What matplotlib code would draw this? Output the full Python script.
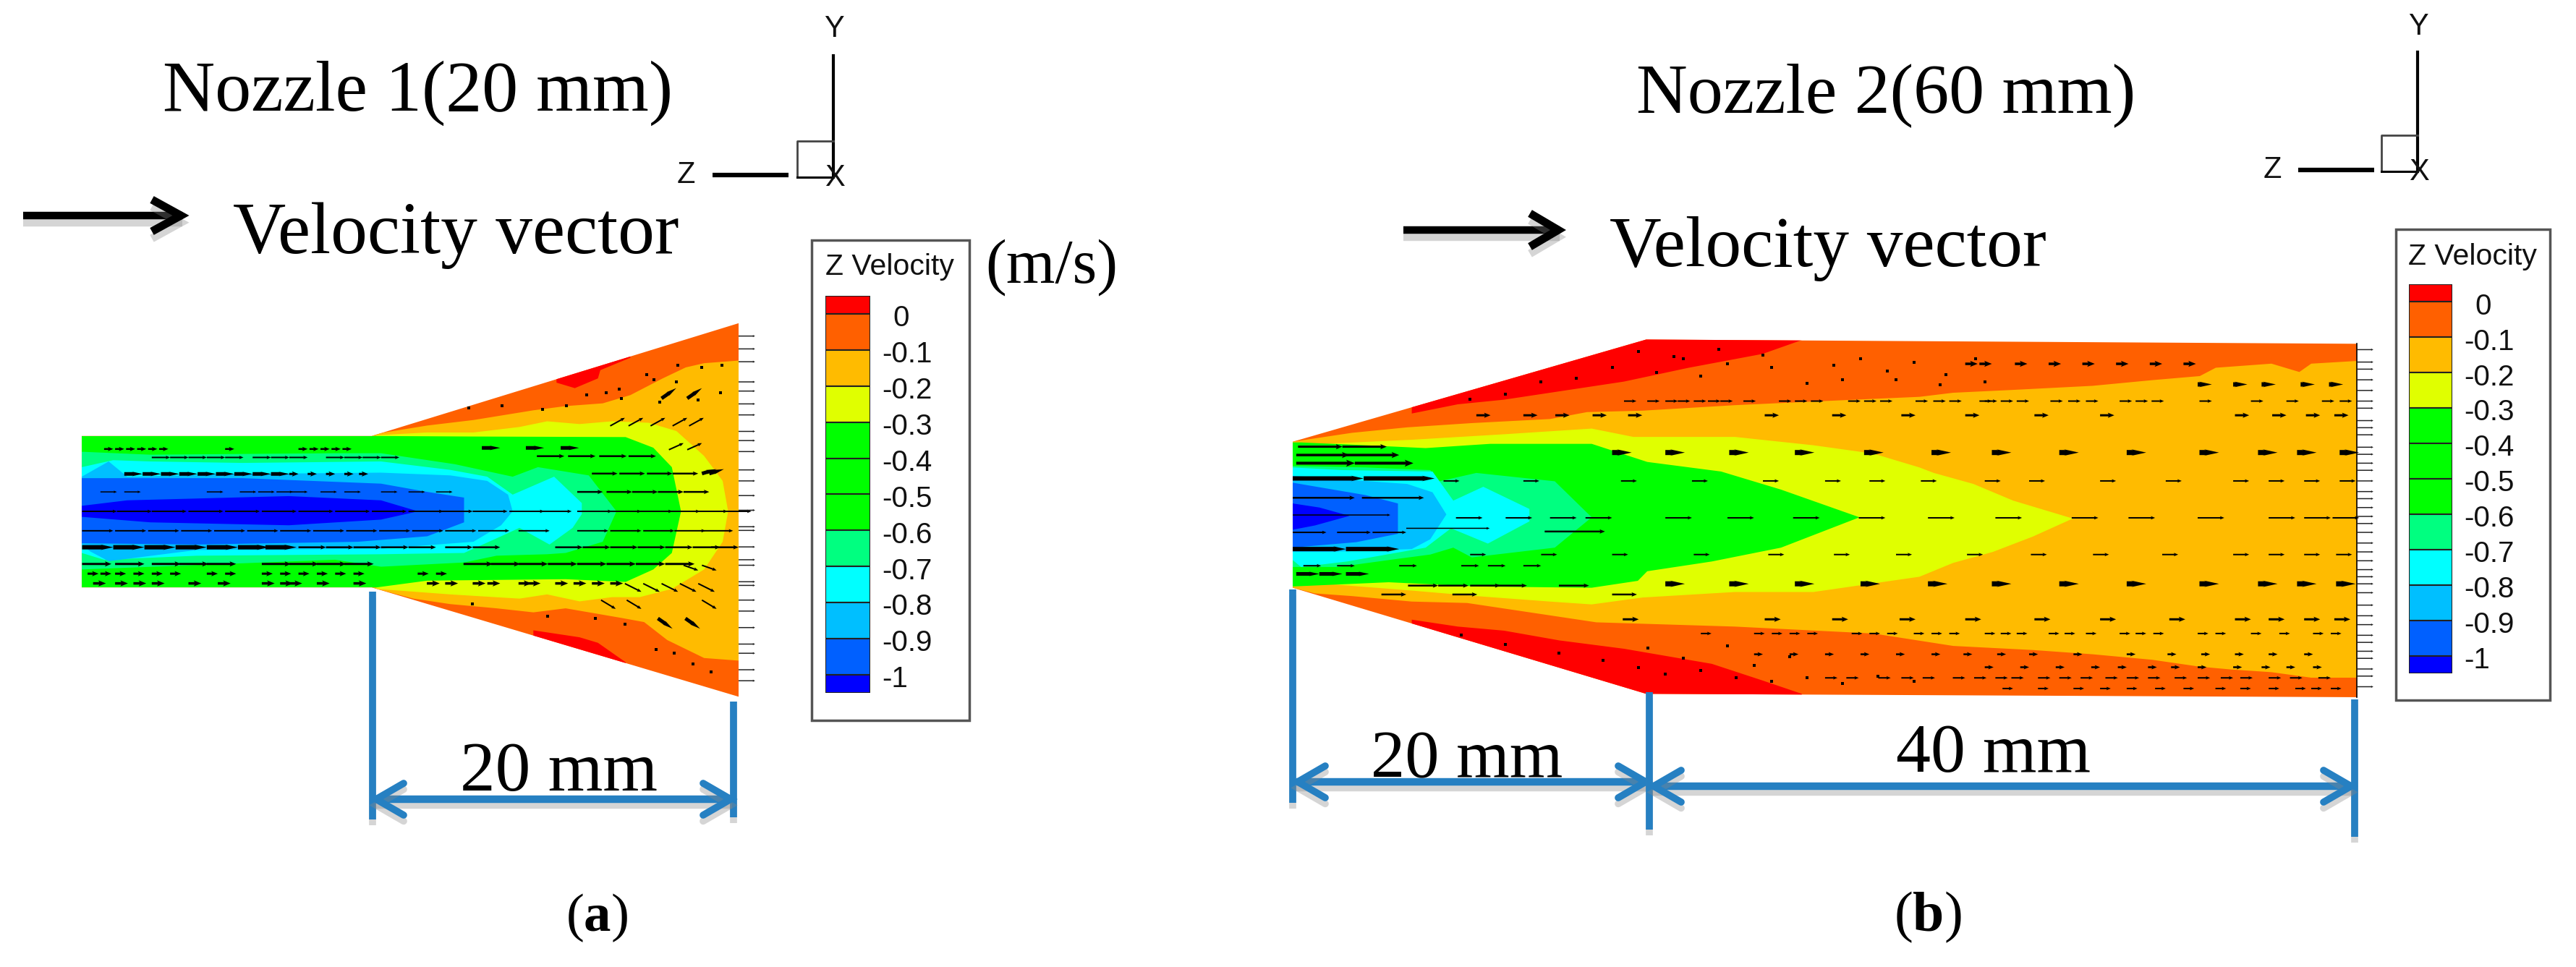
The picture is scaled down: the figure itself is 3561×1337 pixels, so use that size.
import matplotlib
matplotlib.use('Agg')
import matplotlib.pyplot as plt
import matplotlib.patheffects as pe
from matplotlib.patches import Polygon, Rectangle

W, H = 3562, 1337

plt.rcParams['mathtext.fontset'] = 'custom'
plt.rcParams['mathtext.rm'] = 'Liberation Serif'
plt.rcParams['mathtext.bf'] = 'Liberation Serif:bold'

# legend
levels = [0.05, 0, -0.1, -0.2, -0.3, -0.4, -0.5, -0.6, -0.7, -0.8, -0.9, -1, -1.05]
level_labels = ['0', '-0.1', '-0.2', '-0.3', '-0.4', '-0.5', '-0.6', '-0.7', '-0.8', '-0.9', '-1']
band_colors = ['#FF0000', '#FF6000', '#FFBB00', '#E0FF00', '#00FF00', '#00FF00', '#00FF00',
               '#00FF80', '#00FFFF', '#00BFFF', '#0060FF', '#0000FF']

# nozzle 1, contours: z (mm) along axis, r (mm) from axis
n1_wall_z = [-15.82, 0, 20, 20, 0, -15.82]
n1_wall_r = [4.15, 4.15, 10.3, -10.07, -4.11, -4.11]
n1_red_top_z = [10.07, 11.07, 12.33, 12.46, 14.10, 14.10, 10.07]
n1_red_top_r = [7.06, 6.76, 7.29, 7.74, 8.42, 9.5, 8.5]
n1_red_bot_z = [8.81, 11.33, 12.33, 13.84, 13.84, 8.81]
n1_red_bot_r = [-6.45, -6.83, -7.13, -8.19, -9.5, -8.0]
n1_amber_z = [0, .25, 3.02, 5.54, 8.81, 10.57, 12.59, 14.10, 15.86, 17.12, 18.12, 20.1,
              20.1, 18.12, 16.11, 14.85, 13.59, 10.57, 8.81, 6.8, 4.28, 2.27, .25, 0]
n1_amber_r = [4.15, 4.27, 4.72, 5.02, 5.55, 5.78, 5.93, 6.38, 7.29, 7.89, 8.12, 8.27,
              -8.11, -7.96, -6.98, -6.0, -5.77, -5.25, -5.47, -5.25, -5.02, -4.72, -4.19, -4.11]
n1_yellow_z = [.25, 3.02, 5.54, 8.05, 9.56, 11.33, 13.09, 15.1, 16.61, 18.12, 19.13, 19.43,
               19.13, 18.12, 16.36, 14.6, 13.09, 11.33, 9.56, 8.05, 4.28, .25]
n1_yellow_r = [4.19, 4.34, 4.34, 4.64, 4.95, 4.80, 4.95, 4.87, 4.42, 3.06, 1.7, .04,
               -1.62, -3.13, -4.19, -4.64, -4.64, -4.87, -4.49, -4.72, -4.49, -4.19]
n1_green_z = [-15.82, 0, 5.54, 13.84, 15.35, 16.36, 16.86, 16.36, 15.35, 13.84, 10.57, 3.02, .25, -15.82]
n1_green_r = [4.15, 4.15, 4.12, 4.09, 3.51, 2.45, .04, -2.23, -3.13, -3.81, -3.66, -3.74, -4.11, -4.11]
n1_lgreen_z = [-15.82, -12.08, -2.01, .5, 4.53, 7.68, 9.06, 11.83, 13.34, 12.59, 10.57, 9.56, 6.8, 5.03, .5, -2.01, -15.82]
n1_lgreen_r = [3.29, 3.13, 3.21, 3.21, 2.61, 1.93, 2.45, 2.0, .04, -1.62, -2.23, -2.30, -2.38, -2.75, -2.98, -2.60, -3.13]
n1_cyan_z = [-15.82, -14.1, -12.08, -7.05, .5, 4.28, 6.29, 7.68, 9.94, 11.45, 11.45, 10.95, 9.69, 8.05, 7.05, 5.03, .5, -9.56, -14.6, -15.82]
n1_cyan_r = [2.45, 2.83, 2.76, 2.68, 2.76, 2.30, 1.93, .95, 1.93, .49, -.11, -.86, -1.77, -.86, -1.32, -2.23, -2.30, -2.38, -2.6, -2.23]
n1_sky_z = [-15.82, -14.35, -13.34, -7.05, .5, 4.28, 6.29, 7.43, 7.68, 7.05, 5.54, .5, -9.56, -14.35, -15.35, -15.82]
n1_sky_r = [1.93, 2.76, 1.93, 2.08, 2.15, 2.0, 1.7, .95, .04, -.72, -1.62, -2.0, -2.07, -2.68, -2.15, -1.77]
n1_blue_z = [-15.82, -7.05, .5, 3.02, 5.03, 5.03, 3.02, -.76, -9.56, -15.82]
n1_blue_r = [1.85, 1.85, 1.55, 1.10, .79, -.56, -1.32, -1.62, -1.77, -1.70]
n1_dark_z = [-15.82, -13.34, -4.53, .5, 2.52, .5, -4.53, -12.08, -15.82]
n1_dark_r = [.34, .64, .87, .64, .04, -.41, -.72, -.56, -.26]

# nozzle 2
n2_wall_z = [0, 19.92, 59.98, 59.98, 19.92, 0]
n2_wall_r = [4.21, 9.97, 9.73, -10.19, -10.0, -4.02]
n2_red_top_z = [6.71, 9.31, 11.91, 15.03, 18.67, 22.32, 26.48, 28.69, 28.69, 19.92, 6.71]
n2_red_top_r = [5.8, 6.32, 6.58, 7.05, 7.6, 8.38, 9.16, 9.94, 10.5, 10.5, 7.0]
n2_red_bot_z = [6.71, 9.31, 11.91, 15.03, 18.67, 23.62, 26.48, 28.69, 28.69, 19.92, 6.71]
n2_red_bot_r = [-5.82, -6.21, -6.44, -6.99, -7.46, -8.31, -9.25, -10.0, -10.6, -10.6, -7.0]
n2_amber_z = [0, 3.33, 6.45, 10.09, 14.51, 16.59, 19.72, 24.92, 30.12, 35.32, 37.22, 40.58, 45.07, 48.43,
              51.12, 52.02, 55.16, 56.73, 57.4, 60.1, 60.1, 57.4, 55.16, 52.91, 51.12, 48.43, 45.07, 41.7,
              37.22, 32.72, 24.92, 17.11, 14.51, 9.83, 6.71, 3.33, 1.25, 0]
n2_amber_r = [4.21, 4.71, 5.02, 5.26, 5.49, 5.88, 5.96, 6.27, 6.51, 6.74, 6.97, 7.13, 7.36, 7.68,
              7.91, 8.38, 8.61, 8.14, 8.61, 8.77, -9.09, -9.09, -8.78, -8.63, -8.47, -8.08, -7.77, -7.53,
              -7.3, -6.6, -6.21, -5.97, -5.58, -4.88, -4.80, -4.49, -4.34, -4.02]
n2_yellow_z = [0, 1.77, 6.71, 11.91, 16.85, 19.2, 24.92, 29.34, 32.72, 35.32, 36.13, 38.36, 40.6, 43.96,
               41.7, 39.46, 37.22, 35.32, 29.34, 24.92, 19.72, 16.85, 14.51, 10.35, 6.71, 1.77, 0]
n2_yellow_r = [4.17, 4.09, 4.32, 4.63, 4.95, 4.48, 4.48, 4.01, 3.54, 2.76, 2.45, 1.83, .89, -.12,
               -1.14, -2.0, -2.62, -3.4, -4.26, -4.26, -4.57, -4.96, -4.8, -4.49, -4.18, -3.79, -3.95]
n2_green_z = [0, .47, 4.11, 7.49, 11.13, 16.85, 19.98, 24.14, 27.52, 31.94, 27.52, 23.62, 19.98, 19.45, 16.85, 10.35, 5.41, 0]
n2_green_r = [4.17, 4.17, 4.01, 3.85, 4.09, 4.09, 3.07, 2.53, 1.51, -.05, -1.76, -2.54, -3.09, -3.63, -4.02, -3.95, -3.71, -3.95]
n2_lgreen_z = [0, 4.11, 7.75, 8.27, 10.35, 14.77, 16.85, 14.77, 10.09, 9.05, 7.75, 5.93, 2.55, 0]
n2_lgreen_r = [2.84, 2.76, 2.61, 1.98, 2.45, 1.98, -.05, -1.76, -2.31, -1.76, -2.15, -2.39, -2.85, -2.85]
n2_cyan_z = [0, 2.81, 7.88, 9.05, 10.74, 13.34, 13.34, 11.0, 8.92, 7.49, 3.07, .47, 0]
n2_cyan_r = [2.76, 2.61, 2.53, .89, 1.67, .42, -.28, -1.53, -.67, -1.76, -2.54, -2.85, -2.46]
n2_sky_z = [0, 6.45, 7.88, 8.66, 7.75, 6.71, 2.03, 0]
n2_sky_r = [2.29, 1.83, 1.36, .11, -1.29, -1.84, -2.0, -2.0]
n2_blue_z = [0, 4.11, 5.93, 5.93, 3.59, 0]
n2_blue_r = [1.90, 1.2, .73, -.98, -1.45, -1.76]
n2_dark_z = [0, 1.51, 3.2, 1.25, 0]
n2_dark_r = [.73, .5, .03, -.51, -.75]

# velocity vectors, one row = (r, slope, u, line width px, z starts)
n1_rows = [
    (3.44, 0, .5, 2.5, [-14.6, -14, -13.4, -12.8, -12.2, -11.6, -8, -4, -3.4, -2.8, -2.2, -1.6]),
    (2.98, 0, 1.0, 2, [-12, -11, -10, -9, -8, -6.5, -5.5, -4.5, -2.5, -1.5, -.5, .5]),
    (2.08, 0, 1.0, 5, [-13.5, -12.5, -11.5, -10.5, -9.5, -8.5, -7.5, -6.5, -5.5]),
    (2.08, 0, .5, 3, [-4.5, -3.5, -2.5, -1.5, -.7]),
    (1.1, 0, .9, 1.5, [-14.8, -13.5, -9, -7.2, -6.2, -5.2, -4.4, -2.8, -1.5, .5, 2, 3.5]),
    (.04, 0, 1.9, 2, [-15.8, -13.9, -12, -10, -8, -6, -4, -2, 0, 2, 3.6, 5.5, 7.5, 9, 11.2, 12.8, 14.5, 16, 17.5, 18.8]),
    (-1.02, 0, 1.7, 2, [-15.8, -14, -12.2, -10.4, -8.6, -6.8, -5, -3.2, -1.4, .4, 2.2, 4, 5.8, 8, 11.2, 13, 14.8, 16.5, 18]),
    (-1.92, 0, 1.7, 6, [-15.8, -14.1, -12.4, -10.7, -9, -7.3, -5.8]),
    (-1.92, 0, 1.5, 2.5, [-4, -2.5, -1, .5, 2, 4, 5.5, 10, 11.5, 13, 14.5, 16, 17.5, 18.5]),
    (-2.83, 0, 1.6, 3, [-15.8, -14, -12, -10.5, -9, -6, -4.5, -3, -1.5, 5, 6.5, 8, 9.6, 11.2, 12.8, 14.4, 16]),
    (-3.36, 0, .6, 3, [-15.5, -14.8, -14, -13, -12, -11, -9, -8, -6, -5, -4, -3, -2, -1, 2.5, 3.5]),
    (-3.89, 0, .7, 3.5, [-15.2, -14, -13, -12, -10, -8.4, -6, -5, -4.5, -3, -1, 3, 4, 5.5, 6.3, 8, 8.5, 10, 11, 12, 13]),
    (3.5, 0, 1.0, 5, [6, 8.4, 10.3]),
    (3.05, 0, 1.5, 2.5, [9, 10.7, 12.4, 14]),
    (2.1, 0, 1.4, 2.5, [12, 13.5, 15, 16.4]),
    (1.1, 0, 1.4, 2.5, [11.2, 12.8, 14.2, 15.6, 17]),
    (4.7, .55, .8, 2, [13, 14, 15.2, 16.4, 17.3]),
    (6.2, .7, .8, 5, [15.8, 17.2]),
    (3.4, .45, .8, 2, [16.2, 17.2]),
    (2.1, .3, .8, 5, [18, 18.4]),
    (-3.9, -.5, .9, 2, [13.8, 14.8, 15.8, 16.8, 17.8]),
    (-5.8, -.7, .8, 5, [15.6, 17.1]),
    (-4.8, -.6, .8, 2, [12.5, 13.9, 18]),
    (-2.9, -.35, .8, 2, [17, 18]),
]
n1_exit_r = [9.6, 8.9, 8.2, 7.1, 6.6, 5.9, 5.3, 4.4, 3.9, 3.3, 2.3, 1.7, .9, .1, -.8, -1.0, -1.9, -2.6, -2.9, -3.8, -4.0, -4.8, -5.4, -6.3, -7.2, -7.7, -8.6, -9.2]
n1_dots_z = [11.7, 12.8, 13.6, 15.4, 16.6, 7.1, 5.3, 10.6, 9.3, 15.7, 17.8, 19, 13.5, 15, 16.7, 18, 19.1, 5.5, 9.6, 12.2, 13.8, 15.5, 16.5, 17.5, 18.5]
n1_dots_r = [6.4, 6.5, 6.2, 7.2, 7.1, 5.8, 5.7, 5.8, 5.6, 6.0, 6.1, 6.5, 6.7, 7.5, 8.0, 7.9, 8.0, -5.0, -5.7, -5.8, -6.1, -7.5, -7.7, -8.3, -8.7]

n2_rows = [
    (3.93, 0, 2.5, 3, [.3, 2.8]),
    (3.46, 0, 3, 3.5, [.2, 3]),
    (3.0, 0, 3.3, 4, [.2, 3.5]),
    (2.14, 0, 4, 6, [0, 4]),
    (1.05, 0, 3.5, 2.5, [0, 3.9]),
    (.08, 0, 5.5, 1.5, [0]),
    (-.67, 0, 4.7, 1.5, [6.4]),
    (-.9, 0, 1.9, 2, [0, 2.5, 4.5]),
    (-1.84, 0, 3, 6, [0, 3]),
    (-2.78, 0, 1, 2, [.6, 2.5, 6, 9.5, 11, 13]),
    (-3.24, 0, 1.3, 5, [.2, 1.5, 3]),
    (-3.9, 0, 1.7, 2.5, [6.5, 8.2, 10, 11.5, 15]),
    (-4.4, 0, 1.4, 2.5, [5, 9, 18]),
    (3.6, 0, 1.1, 7, [18, 21, 24.6, 28.3, 32.2, 36, 39.4, 43.2, 47, 51.1, 54.4, 56.6, 59]),
    (-3.8, 0, 1.1, 7, [21, 24.6, 28.3, 32, 35.8, 39.4, 43.2, 47, 51.1, 54.4, 56.6, 58.8]),
    (2.0, 0, .9, 2, [8.5, 13, 18.5, 22.5, 26.5, 30, 32.5, 35.4, 39, 41.5, 45.5, 49.2, 53, 55, 57, 59]),
    (-.08, 0, 1.5, 2, [9.2, 12, 14.5, 16.5, 21, 24.5, 28.2, 31.9, 35.8, 39.6, 43.9, 47.1, 51, 55, 57, 58.6]),
    (-.85, 0, 3.4, 2.5, [14.2]),
    (-2.15, 0, .9, 2, [10, 14, 18, 22.6, 26.8, 30.5, 34, 38, 41.6, 45.1, 49, 53, 55, 57, 58.8]),
    (6.5, 0, .7, 2, [18.67, 19.98, 21, 21.7, 22.6, 23.4, 24.1, 25.4, 27.4, 28.3, 29.2, 31.3, 32.2, 33.1, 35.1, 36.1, 37, 38.7,
                     39, 39.9, 40.8, 42.7, 43.7, 44.7, 46.6, 47.5, 48.4, 51.1, 54, 56, 58, 59]),
    (5.7, 0, .8, 3, [10.35, 13, 14.8, 16.9, 18.9, 26.6, 30.4, 34.3, 37.9, 41.8, 45.5, 53.1, 55.2, 57.1, 58.7]),
    (-5.8, 0, .9, 3, [18.6, 26.6, 30.4, 34.2, 37.9, 41.8, 45.5, 49.4, 53.1, 55, 57, 58.7]),
    (-6.6, 0, .6, 2, [23, 26, 27, 28, 29, 31.5, 32.5, 33.5, 35, 36, 37, 39, 39.9, 40.8, 42.6, 43.5, 44.7, 46.6, 47.5, 48.5, 51, 52, 54, 55.6, 57.5, 58.5]),
    (-7.77, 0, .5, 2.5, [26, 28, 30, 32, 34, 36, 37.8, 39.7, 41.5, 44, 47, 49.3, 51.2, 53.1, 55, 57]),
    (7.44, 0, .8, 6, [51, 53, 54.6, 56.8, 58.4]),
    (8.6, 0, .7, 3.5, [37.9, 38.7, 40.7, 42.6, 44.5, 46.4, 48.3, 50.2]),
    (-9.1, 0, .7, 2, [30, 31.2, 33, 34.3, 35.5, 37.2, 38.4, 39.6, 40.5, 42, 43.2, 44.4, 45.8, 47, 48.2, 49.7, 51, 52.3, 53.4, 55, 56.2, 57.8]),
    (-8.5, 0, .5, 2.5, [39, 41, 43, 45, 46.5, 48.2, 49.5, 51, 53, 54.6, 56, 57.5]),
    (-9.7, 0, .6, 2, [40, 42, 44, 45.5, 47, 48.6, 50.2, 52, 53.4, 55, 56.5, 57.4, 58.5]),
]
n2_exit_r = [9.4, 8.7, 8.3, 7.7, 7.1, 6.5, 6.1, 5.4, 5.0, 4.6, 3.9, 3.5, 3.0, 2.6, 2.0, 1.4, 1.0, .5, 0, -.4, -.9, -1.5, -2.0, -2.5, -3.0, -3.4, -3.8, -4.3, -5.0, -5.6, -6.1, -6.7, -7.1, -7.6, -8.0, -8.6, -9.0, -9.6]
n2_dots_z = [19.5, 21.5, 24, 26.5, 16, 14, 12, 10, 18, 20.5, 23, 22, 24.5, 27, 29, 30.5, 32, 33.5, 35, 36.8, 38.5, 31, 34, 36.5, 39,
             9.5, 12, 15, 17.5, 19.5, 21, 23, 25, 27, 29, 31, 33, 35, 20, 22, 24.5, 26, 28]
n2_dots_r = [9.3, 9.0, 9.4, 9.1, 7.8, 7.6, 6.9, 6.6, 8.4, 8.1, 7.9, 8.9, 8.6, 8.4, 7.5, 8.5, 8.9, 8.2, 8.7, 8.0, 8.9, 7.7, 7.7, 7.4, 7.6,
             -6.7, -7.2, -7.7, -8.1, -8.5, -8.9, -8.7, -9.1, -9.3, -9.1, -9.4, -9.0, -9.3, -7.4, -8.0, -7.3, -8.4, -7.9]

fig = plt.figure(figsize=(W/100, H/100), dpi=100, facecolor='white')

# overlay in picture pixels for labels and dimension lines
over = fig.add_axes([0, 0, 1, 1], zorder=5)
over.set_xlim(0, W)
over.set_ylim(H, 0)
over.axis('off')


def nozzle_axes(x0, x1, zero_x, mid_y, scale, rmax):
    ax = fig.add_axes([x0/W, 1-(mid_y+rmax*scale)/H, (x1-x0)/W, 2*rmax*scale/H], zorder=2)
    ax.set_xlim((x0-zero_x)/scale, (x1-zero_x)/scale)
    ax.set_ylim(-rmax, rmax)
    ax.axis('off')
    return ax


def draw_nozzle(ax, wall_z, wall_r, bands, rows, exit_z, exit_r, dots_z, dots_r):
    wall = Polygon(list(zip(wall_z, wall_r)), closed=True, fc='#FF6000', ec='none', transform=ax.transData)
    ax.add_patch(wall)
    for col, bz, br in bands:
        for p in ax.fill(bz, br, color=col, lw=0):
            p.set_clip_path(wall)
    ax.scatter(dots_z, dots_r, s=10, c='black', marker='s', lw=0, zorder=4)
    for r, slope, u, lw, zs in rows:
        # thick rows are smudges in the picture, almost no head
        head = 1.3 if lw >= 5 else 2.4
        ax.quiver(zs, [r]*len(zs), [u]*len(zs), [u*slope]*len(zs), angles='xy', scale_units='xy', scale=1,
                  units='dots', width=lw, headwidth=head, headlength=3, headaxislength=2.6, minlength=0,
                  color='black', zorder=5, clip_on=False)
    ax.quiver([exit_z]*len(exit_r), exit_r, [.9]*len(exit_r), [0]*len(exit_r), angles='xy', scale_units='xy', scale=1,
              units='dots', width=1.5, headwidth=2, headlength=2, headaxislength=2, color='#222222', zorder=5, clip_on=False)


ax1 = nozzle_axes(100, 1060, 514, 708, 25.35, 10.8)
draw_nozzle(ax1, n1_wall_z, n1_wall_r, [
    ('#FF0000', n1_red_top_z, n1_red_top_r),
    ('#FF0000', n1_red_bot_z, n1_red_bot_r),
    ('#FFBB00', n1_amber_z, n1_amber_r),
    ('#E0FF00', n1_yellow_z, n1_yellow_r),
    ('#00FF00', n1_green_z, n1_green_r),
    ('#00FF80', n1_lgreen_z, n1_lgreen_r),
    ('#00FFFF', n1_cyan_z, n1_cyan_r),
    ('#00BFFF', n1_sky_z, n1_sky_r),
    ('#0060FF', n1_blue_z, n1_blue_r),
    ('#0000FF', n1_dark_z, n1_dark_r),
], n1_rows, 20, n1_exit_r, n1_dots_z, n1_dots_r)

ax2 = nozzle_axes(1770, 3295, 1787, 714, 24.53, 10.7)
draw_nozzle(ax2, n2_wall_z, n2_wall_r, [
    ('#FF0000', n2_red_top_z, n2_red_top_r),
    ('#FF0000', n2_red_bot_z, n2_red_bot_r),
    ('#FFBB00', n2_amber_z, n2_amber_r),
    ('#E0FF00', n2_yellow_z, n2_yellow_r),
    ('#00FF00', n2_green_z, n2_green_r),
    ('#00FF80', n2_lgreen_z, n2_lgreen_r),
    ('#00FFFF', n2_cyan_z, n2_cyan_r),
    ('#00BFFF', n2_sky_z, n2_sky_r),
    ('#0060FF', n2_blue_z, n2_blue_r),
    ('#0000FF', n2_dark_z, n2_dark_r),
], n2_rows, 60, n2_exit_r, n2_dots_z, n2_dots_r)
ax2.plot([59.98, 59.98], [9.73, -10.19], color='black', lw=1.2, zorder=4)


def legend_bar(x0, x1, top, bottom, box, title_x, title_y):
    over.add_patch(Rectangle((box[0], box[1]), box[2]-box[0], box[3]-box[1], fc='white', ec='#555555', lw=2.5, zorder=1))
    over.text(title_x, title_y, 'Z Velocity', family='Liberation Sans', fontsize=29.5,
              ha='center', va='center', color='#111111')
    cax = fig.add_axes([x0/W, 1-bottom/H, (x1-x0)/W, (bottom-top)/H], zorder=6)
    heights = [levels[i]-levels[i+1] for i in range(len(band_colors))]
    cax.bar(0, heights, bottom=levels[1:], width=1, color=band_colors, edgecolor='#222222', lw=1.5)
    cax.set_xlim(-.5, .5)
    cax.set_ylim(levels[-1], levels[0])
    cax.axis('off')
    for lab, lev in zip(level_labels, levels[1:-1]):
        if lab == '0':
            cax.annotate(lab, (1, lev), xycoords=cax.get_yaxis_transform(), xytext=(31, -4.5),
                         textcoords='offset points', ha='center', va='center',
                         family='Liberation Sans', fontsize=29, color='#111111', annotation_clip=False)
        else:
            cax.annotate(lab, (1, lev), xycoords=cax.get_yaxis_transform(), xytext=(12, -4.5),
                         textcoords='offset points', ha='left', va='center',
                         family='Liberation Sans', fontsize=29, color='#111111', annotation_clip=False)


legend_bar(1141, 1203, 409, 958, (1122, 332, 1340, 996), 1230, 369)
legend_bar(3330, 3390, 393, 931, (3312, 317, 3525, 968), 3418, 355)


def soft(offset=-7):
    return [pe.SimpleLineShadow(offset=(0, offset), shadow_color='#888888', alpha=.35), pe.Normal()]


def big_arrow(x0, x1, back, y, half):
    over.plot([x0, x1], [y, y], color='black', lw=7.5, solid_capstyle='butt', path_effects=soft())
    over.plot([back, x1-2, back], [y-half, y, y+half], color='black', lw=8, solid_capstyle='butt',
              solid_joinstyle='miter', path_effects=soft())


def triad(x, ytop, ybase, box_x, zx0, zx1, zy, labx, laby, ylab):
    over.plot([x, x], [ytop, ybase], color='black', lw=3)
    over.plot([box_x, box_x, x], [ybase, ybase-50, ybase-50], color='#444444', lw=2)
    over.plot([box_x, x], [ybase, ybase], color='black', lw=2.2)
    over.plot([zx0, zx1], [zy, zy], color='black', lw=4.5, solid_capstyle='butt')
    kw = dict(family='Liberation Sans', fontsize=30, ha='center', va='center', color='#111111')
    over.text(labx, laby, 'Z', **kw)
    over.text(x+1, ylab, 'Y', **kw)
    over.text(x+2, ybase+1, 'X', **kw)


def dim_line(x0, x1, y, vert):
    for vx, vt, vb in vert:
        over.plot([vx, vx], [vt, vb], color='#2680C2', lw=7, solid_capstyle='butt', path_effects=soft(-6))
    over.plot([x0, x1], [y, y], color='#2680C2', lw=7.5, solid_capstyle='butt', path_effects=soft(-6))
    over.plot([x0+40, x0+2, x0+40], [y-22, y, y+22], color='#2680C2', lw=7, solid_capstyle='round',
              solid_joinstyle='miter', path_effects=soft(-6))
    over.plot([x1-40, x1-2, x1-40], [y-22, y, y+22], color='#2680C2', lw=7, solid_capstyle='round',
              solid_joinstyle='miter', path_effects=soft(-6))


serif = dict(family='Liberation Serif', color='black', va='baseline')
over.text(225, 153, 'Nozzle 1(20 mm)', fontsize=72, ha='left', **serif)
over.text(322, 350, 'Velocity vector', fontsize=73, ha='left', **serif)
over.text(2262, 155, 'Nozzle 2(60 mm)', fontsize=70.5, ha='left', **serif)
over.text(2225, 368, 'Velocity vector', fontsize=71.5, ha='left', **serif)
over.text(1362, 390, '(m/s)', fontsize=62.5, ha='left', **serif)
over.text(636, 1093, '20 mm', fontsize=70, ha='left', **serif)
over.text(1895, 1074, '20 mm', fontsize=68, ha='left', **serif)
over.text(2621, 1067, '40 mm', fontsize=69, ha='left', **serif)
over.text(825, 1287, r'($\mathbf{a}$)', fontsize=54, ha='center', **serif)
over.text(2665, 1287, r'($\mathbf{b}$)', fontsize=56, ha='center', **serif)

big_arrow(32, 252, 210, 298, 22)
big_arrow(1940, 2156, 2115, 318, 23)
triad(1152, 77, 245, 1102, 985, 1090, 242, 948, 242, 40)
triad(3342, 72, 237, 3292, 3177, 3282, 235, 3141, 235, 37)

dim_line(518, 1012, 1105, [(515, 818, 1133), (1014.5, 970, 1130)])
dim_line(1792, 2277, 1081, [(1787.5, 815, 1110)])
dim_line(2284, 3252, 1087, [(2280.5, 957, 1147), (3255, 967, 1157)])

plt.savefig('out.png', dpi=100, facecolor='white')
